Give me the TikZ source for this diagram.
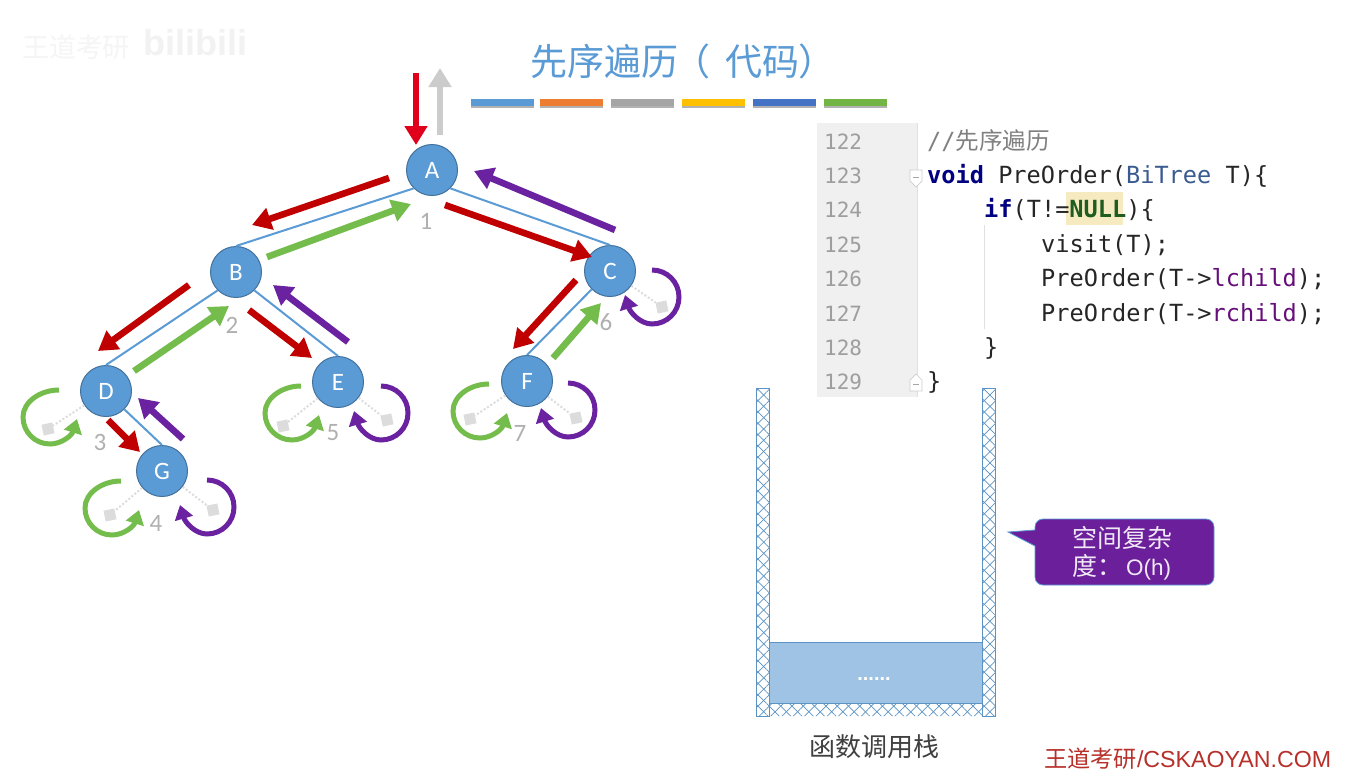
\documentclass[tikz,border=0pt]{standalone}
\usepackage{fontspec}
\setmainfont{Carlito}
\newfontfamily\cjk{Noto Sans CJK SC}
\newfontfamily\monof{DejaVu Sans Mono}
\newfontfamily\arialf{Liberation Sans}
\usetikzlibrary{arrows.meta,patterns.meta,shapes.geometric}
\definecolor{nodeblue}{HTML}{5B9BD5}
\definecolor{nodeedge}{HTML}{41719C}
\definecolor{flowred}{HTML}{C00000}
\definecolor{topred}{HTML}{E0001B}
\definecolor{flowgreen}{HTML}{74BC4C}
\definecolor{flowpurple}{HTML}{6A22A0}
\definecolor{leafgray}{HTML}{DCDCDC}
\definecolor{numgray}{HTML}{B0B0B0}
\definecolor{gutter}{HTML}{F0F0F0}
\definecolor{kw}{HTML}{000080}
\definecolor{typec}{HTML}{3A5A90}
\definecolor{nullc}{HTML}{1F5C1F}
\definecolor{fieldc}{HTML}{660E7A}
\definecolor{hilite}{HTML}{F6EBC0}
\definecolor{wallc}{HTML}{5B93C5}
\definecolor{blockc}{HTML}{9FC3E5}
\definecolor{callc}{HTML}{6B1F9B}
\definecolor{brandred}{HTML}{B8302A}
\newcommand{\fs}[1]{\fontsize{#1}{#1}\selectfont}
\tikzset{
  x=1pt,y=-1pt,
  tree/.style={circle,fill=nodeblue,draw=nodeedge,line width=1pt,minimum size=51pt,inner sep=0pt,text=white,font=\fs{25}},
  treeedge/.style={draw=nodeblue,line width=2pt},
  flowarrow/.style={line width=6.6pt,-{Triangle[length=19pt,width=22pt]}},
  looparrow/.style={line width=5pt,-{Triangle[length=14pt,width=18pt]}},
  leaf/.style={fill=leafgray,minimum size=11pt,inner sep=0pt,rotate=12},
  leafline/.style={draw=leafgray,line width=2pt,dotted},
  num/.style={text=numgray,font=\fs{25}},
  bar/.style={minimum width=63pt,minimum height=7pt,inner sep=0pt},
  lineno/.style={anchor=base west,inner sep=0pt,text=numgray!90!black,font=\monof\fs{21}},
  code/.style={anchor=base west,inner sep=0pt,text=black!85,font=\monof\fs{23.6}},
  wall/.style={draw=wallc,line width=1pt},
}
\newcommand{\flow}[4]{%
  \coordinate (#1-s) at (#3);\coordinate (#1-e) at (#4);
  \draw[flowarrow,#2] (#1-s) -- (#1-e);}
\newcommand{\leftleaf}[4]{% parent, leaf name, square pos, loop centre
  \node[leaf] (#2) at (#3) {};
  \draw[leafline] (#1) -- (#2);
  \begin{scope}[shift={(#4)}]
  \draw[looparrow,flowgreen] (9,-27) .. controls (-10,-27) and (-27,-15) .. (-27,0) .. controls (-27,15) and (-15,27) .. (0,27) .. controls (12,27) and (22,18) .. (27,2);
  \end{scope}}
\newcommand{\rightleaf}[4]{%
  \node[leaf] (#2) at (#3) {};
  \draw[leafline] (#1) -- (#2);
  \begin{scope}[shift={(#4)}]
  \draw[looparrow,flowpurple] (0,-27) .. controls (15,-27) and (27,-15) .. (27,0) .. controls (27,15) and (15,27) .. (0,27) .. controls (-12,27) and (-22,15) .. (-27,-2);
  \end{scope}}
\begin{document}
\begin{tikzpicture}
\useasboundingbox (0,0) rectangle (1371,774);
\fill[white] (0,0) rectangle (1371,774);
% faint watermark
\node[text=black!4,font=\cjk\fs{27}] (wm1) at (76,47) {王道考研};
\node[text=black!5,font=\arialf\bfseries\fs{36}] (wm2) at (195,43) {bilibili};
% title
\node[anchor=west,inner sep=0pt,text=nodeblue,font=\cjk\fs{37}] (title) at (530,61) {先序遍历\kern-5pt（\kern15pt代码\kern-1pt）};
% colour bars
\foreach \n/\cx/\c in {b1/502/5B9BD5,b2/571/ED7D31,b3/642.5/A5A5A5,b4/713.5/FFC000,b5/784/4472C4,b6/855.5/72B545}{
  \definecolor{barc}{HTML}{\c}
  \fill[black!30] (\cx-31.5,100) rectangle (\cx+31.5,107.5);
  \node[bar,fill=barc] (\n) at (\cx,102) {};
}
% tree
\node[tree] (A) at (432,170) {A};
\node[tree] (B) at (236,272) {B};
\node[tree] (C) at (610,271) {C};
\node[tree] (D) at (106,391) {D};
\node[tree] (E) at (338,382) {E};
\node[tree] (F) at (527,381) {F};
\node[tree] (G) at (162,471) {G};
\draw[treeedge] (A.south west) -- (B.north);
\draw[treeedge] (A.south east) -- (C.north);
\draw[treeedge] (B.south west) -- (D.north);
\draw[treeedge] (B.south east) -- (E.north);
\draw[treeedge] (D.south east) -- (G.north);
\draw[treeedge] (C.south west) -- (F.north);
% leaves
\leftleaf{D}{dl}{48,429}{50,417}
\leftleaf{E}{el}{283,426}{292,413}
\rightleaf{E}{er}{387,420}{381,413}
\leftleaf{G}{gl}{110,515}{112,508}
\rightleaf{G}{gr}{213,510}{207,507}
\leftleaf{F}{fl}{470,419}{480,411}
\rightleaf{F}{fr}{576,418}{568,410}
\rightleaf{C}{cr}{662,307}{652,297}
% flow arrows
\flow{top}{topred}{416,73}{416,145}
\flow{up}{black!20}{440,135}{440,68}
\flow{ab}{flowred}{389,178}{252,225}
\flow{ba}{flowgreen}{267,257}{411,204}
\flow{ac}{flowred}{445,205}{592,257}
\flow{ca}{flowpurple}{615,230}{474,171}
\flow{bd}{flowred}{189,285}{98,351}
\flow{db}{flowgreen}{134,371}{229,306}
\flow{be}{flowred}{249,310}{312,358}
\flow{eb}{flowpurple}{348,342}{273,285}
\flow{dg}{flowred}{108,420}{140,452}
\flow{gd}{flowpurple}{183,439}{138,398}
\flow{cf}{flowred}{576,280}{513,349}
\flow{fc}{flowgreen}{553,358}{601,303}
% numbers
\node[num] (n1) at (426,221) {1};
\node[num] (n2) at (232,325) {2};
\node[num] (n3) at (100,442) {3};
\node[num] (n4) at (156,523) {4};
\node[num] (n5) at (333,433) {5};
\node[num] (n6) at (606,322) {6};
\node[num] (n7) at (520,433) {7};
% code panel
\fill[gutter] (817,123) rectangle (917,397);
\fill[hilite] (1066,192) rectangle (1123,225);
\draw[black!12,line width=.8pt] (917,123) -- (917,397);
\draw[black!12,line width=.8pt] (984,225) -- (984,329);
\draw[black!20,fill=white,line width=.7pt] (910,170) -- (922,170) -- (922,181) -- (916,187) -- (910,181) -- cycle;
\draw[black!35,line width=.7pt] (913,177) -- (919,177);
\draw[black!20,fill=white,line width=.7pt] (910,391) -- (922,391) -- (922,380) -- (916,374) -- (910,380) -- cycle;
\draw[black!35,line width=.7pt] (913,384) -- (919,384);
\foreach \n/\yy in {122/149,123/183,124/217,125/252,126/286,127/321,128/355,129/389}
  \node[lineno] (l\n) at (824,\yy) {\n};
\node[code,text=black!50] (c1) at (927,149) {//{\cjk 先序遍历}};
\node[code] (c2) at (927,183) {\textcolor{kw}{\bfseries void} PreOrder(\textcolor{typec}{BiTree} T)\{};
\node[code] (c3) at (984,217) {\textcolor{kw}{\bfseries if}(T!=\textcolor{nullc}{\bfseries NULL})\{};
\node[code] (c4) at (1041,252) {visit(T);};
\node[code] (c5) at (1041,286) {PreOrder(T->\textcolor{fieldc}{lchild});};
\node[code] (c6) at (1041,321) {PreOrder(T->\textcolor{fieldc}{rchild});};
\node[code] (c7) at (984,355) {\}};
\node[code] (c8) at (927,389) {\}};
% stack
\fill[blockc] (769,642) rectangle (982,703);
\draw[wall] (769,642) rectangle (982,703);
\foreach \ang in {45,-45}{
  \fill[pattern={Lines[angle=\ang,distance=8pt,line width=.7pt]},pattern color=wallc]
    (756,388) rectangle (769,716) (982,388) rectangle (995,716) (769,703) rectangle (982,716);
}
\draw[wall] (756,388) rectangle (769,716);
\draw[wall] (982,388) rectangle (995,716);
\draw[wall] (769,703) -- (982,703);
\node[text=white,font=\arialf\bfseries\fs{20},inner sep=0pt] (dots) at (874,679) {......};
\node[text=black!75,font=\cjk\fs{26}] (stacklabel) at (874,747) {函数调用栈};
% callout
\draw[fill=callc,draw=nodeblue,line width=.8pt]
  (1008,532) -- (1035,530) [rounded corners=8pt] -- (1035,519) -- (1214,519) -- (1214,585) -- (1035,585) [sharp corners] -- (1035,546) -- cycle;
\node[text=white!90!callc,font=\cjk\fs{25}] (call1) at (1122,538) {空间复杂};
\node[text=white!90!callc,font=\cjk\fs{25}] (call2) at (1122,567) {度：\kern-3pt{\arialf\fs{22.5} O(h)}};
% brand
\node[anchor=base west,inner sep=0pt,text=brandred,font=\fs{23.2}] (brand) at (1044,767) {{\cjk 王道考研}{\arialf /CSKAOYAN.COM}};
\end{tikzpicture}
\end{document}
